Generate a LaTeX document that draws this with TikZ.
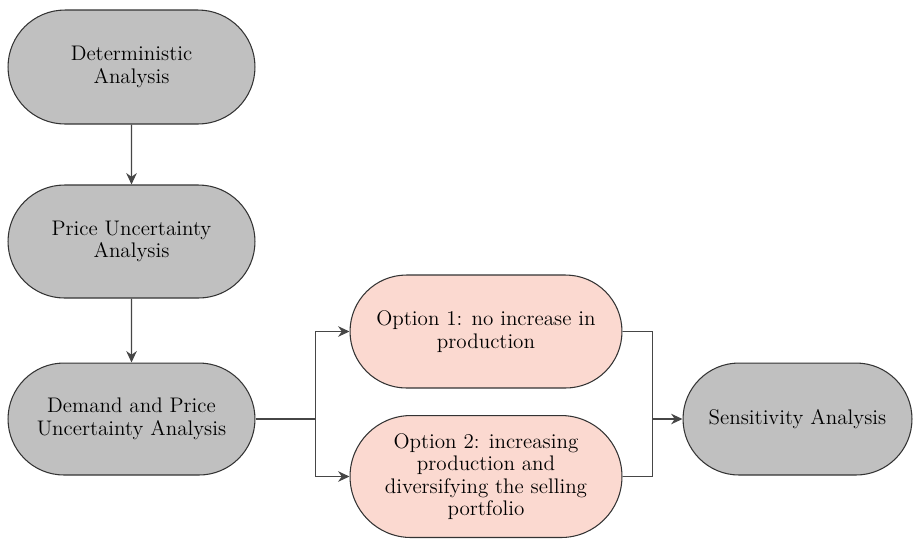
\documentclass[tikz,border=0pt]{standalone}
\usetikzlibrary{shapes.misc,arrows.meta,calc}

\definecolor{stagegray}{RGB}{192,192,192}
\definecolor{optionpink}{RGB}{251,217,208}
\definecolor{linegray}{RGB}{70,70,70}

\begin{document}
\begin{tikzpicture}[x=0.02cm, y=-0.02cm,
    stage/.style={rounded rectangle, draw=black!80, line width=0.6pt, fill=stagegray,
        align=center, font=\fontsize{12}{12.8}\selectfont, inner sep=0pt},
    option/.style={stage, fill=optionpink},
    flow/.style={draw=linegray, line width=0.7pt, -{Stealth[length=6.5pt, width=6pt]}},
    link/.style={draw=linegray, line width=0.7pt}]

    % keep the page the size of the reference
    \useasboundingbox (0,0) rectangle (918,539);

    % left column
    \node[stage, minimum width=4.94cm, minimum height=2.28cm] (det) at (131.5,67) {Deterministic\\Analysis};
    \node[stage, minimum width=4.94cm, minimum height=2.26cm] (price) at (131.5,241.5) {Price Uncertainty\\Analysis};
    \node[stage, minimum width=4.94cm, minimum height=2.24cm] (demand) at (131.5,419) {Demand and Price\\Uncertainty Analysis};

    % the two options
    \node[option, minimum width=5.44cm, minimum height=2.26cm] (opt1) at (486,331.5) {Option 1: no increase in\\production};
    \node[option, minimum width=5.44cm, minimum height=2.44cm] (opt2) at (486,476.5) {Option 2: increasing\\production and\\diversifying the selling\\portfolio};

    % final stage
    \node[stage, minimum width=4.58cm, minimum height=2.24cm] (sens) at (797.5,419) {Sensitivity Analysis};

    % connectors
    \draw[flow] (det) -- (price);
    \draw[flow] (price) -- (demand);
    \draw[link] (demand.east) -- ++(60,0) coordinate (split);
    \draw[flow] (split) |- (opt1.west);
    \draw[flow] (split) |- (opt2.west);
    \coordinate (join) at ($(opt1.east)+(30,0)$);
    \draw[link] (opt1.east) -- (join) -- (join |- opt2.east) -- (opt2.east);
    \draw[flow] (join |- sens.west) -- (sens.west);

\end{tikzpicture}
\end{document}
